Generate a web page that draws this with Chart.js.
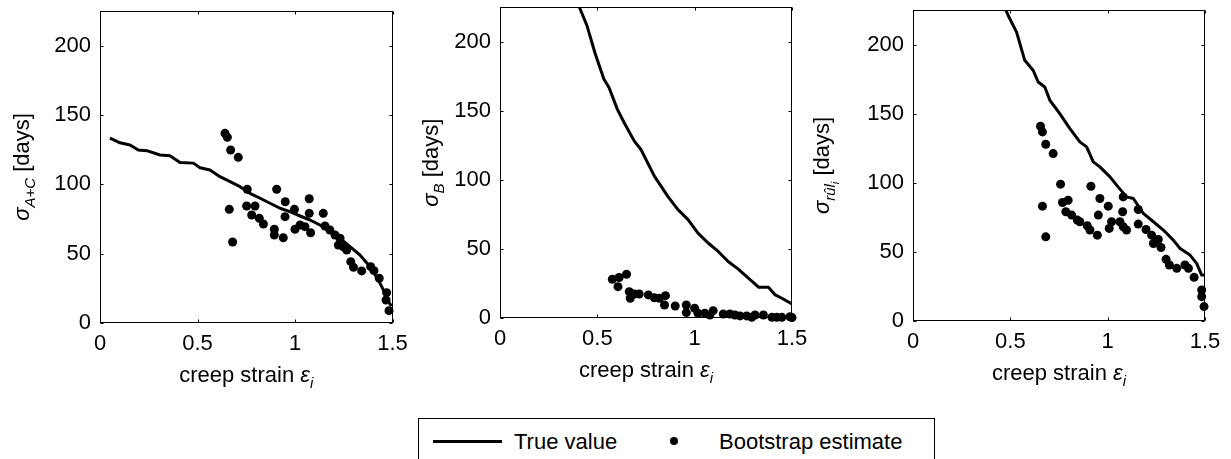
<!DOCTYPE html>
<html><head><meta charset="utf-8">
<script src="https://cdn.jsdelivr.net/npm/chart.js@4.4.0/dist/chart.umd.min.js"></script>
<style>
html,body{margin:0;padding:0;background:#fff;width:1231px;height:459px;overflow:hidden;font-family:"Liberation Sans",Arial,sans-serif;}
canvas{position:absolute;top:0;}
#legend{position:absolute;left:418px;top:418px;width:517px;height:70px;border:1px solid #000;box-sizing:border-box;background:#fff;}
#legend .ln{position:absolute;left:14px;top:21px;width:69px;height:3px;background:#000;}
#legend .dot{position:absolute;left:251px;top:18px;width:8px;height:8px;border-radius:50%;background:#000;}
#legend .tx{position:absolute;top:12px;font-size:22px;line-height:22px;color:#000;white-space:nowrap;}
</style></head><body>
<canvas id="c1" width="410" height="400" style="left:0px"></canvas>
<canvas id="c2" width="410" height="400" style="left:400px"></canvas>
<canvas id="c3" width="418" height="400" style="left:813px"></canvas>
<div id="legend"><div class="ln"></div><span class="tx" style="left:95px">True value</span><div class="dot"></div><span class="tx" style="left:300px">Bootstrap estimate</span></div>
<script>
// ---------- data ----------
const xTicks = [0, 0.5, 1, 1.5];
const yTicks = [0, 50, 100, 150, 200];

// panel 1: sigma_{A+C}
const trueAC_x = [0.051,0.103,0.154,0.196,0.24,0.308,0.359,0.41,0.479,0.513,0.564,0.615,0.667,0.718,0.769,0.821,0.872,0.923,0.974,1.026,1.077,1.128,1.179,1.231,1.282,1.333,1.385,1.427,1.462,1.479,1.495];
const trueAC_y = [133.4,130,128.4,124.8,124.3,121.2,120.7,115.8,115.3,112,110.3,105.5,101.9,98.3,93.5,89.9,86.3,82.7,80.2,77.1,74.2,70.6,65.8,61,54.9,48.9,40.5,30.9,21.2,15.2,12];
const bootAC_x = [0.641,0.653,0.67,0.709,0.663,0.68,0.755,0.752,0.795,0.778,0.817,0.838,0.894,0.894,0.906,0.94,0.95,0.949,0.997,1.0,1.026,1.051,1.073,1.073,1.08,1.145,1.154,1.179,1.205,1.222,1.231,1.248,1.265,1.286,1.3,1.342,1.388,1.405,1.432,1.47,1.467,1.482];
const bootAC_y = [136.8,134,124.8,119.5,81.9,58.3,96.4,84.3,84.3,77.8,75.4,71.3,67.5,63.4,96.4,61.4,87.4,76.6,81.9,67.5,70.6,69.4,89.6,79,65,79,69.9,67,63.4,56.1,61,54.9,52.5,44.1,40,37.4,40.5,37.6,32.1,21.7,16.4,8.7];

// panel 2: sigma_B
const trueB_x = [0.408,0.447,0.49,0.534,0.56,0.603,0.638,0.69,0.724,0.793,0.862,0.914,0.966,1.017,1.069,1.121,1.172,1.224,1.276,1.328,1.379,1.414,1.448,1.5];
const trueB_y = [225,211.6,191,172.9,166.9,151.1,141.4,128.1,122,102.7,88.1,78.5,71.2,61.5,54.3,48.2,40.9,35.4,28.8,22.3,22.3,16.7,14.3,10.2];
const bootB_x = [0.577,0.606,0.612,0.65,0.664,0.669,0.69,0.715,0.762,0.793,0.819,0.85,0.845,0.9,0.957,0.957,1.0,1.017,1.052,1.095,1.078,1.147,1.181,1.207,1.233,1.267,1.293,1.31,1.353,1.397,1.422,1.448,1.49,1.5];
const bootB_y = [28.1,22.7,29.3,31.7,19.1,14.3,17.4,17.4,16.7,14.7,14.3,16.2,9.4,8.7,9.4,3.9,7.1,3.4,3.4,5.3,2.2,2.9,2.9,2.2,1.5,1.5,0.5,2.2,2.2,0.5,0.5,0.5,0.9,0.3];

// panel 3: sigma_{rul_i}
const trueRUL_x = [0.477,0.489,0.532,0.574,0.617,0.643,0.677,0.703,0.754,0.806,0.857,0.892,0.926,0.96,1.012,1.046,1.097,1.132,1.183,1.235,1.286,1.337,1.372,1.423,1.457,1.483,1.5];
const trueRUL_y = [225,221,209,188.6,181.4,172.9,169.3,159.7,150,139.2,129.6,126,115.1,111.5,104.3,98.3,89.8,88.6,77.8,71.8,65.8,58.5,52.5,47.7,41.7,33.2,33.2];
const bootRUL_x = [0.655,0.665,0.682,0.72,0.665,0.682,0.758,0.768,0.797,0.785,0.815,0.844,0.857,0.895,0.909,0.914,0.947,0.96,0.952,1.003,1.008,1.02,1.063,1.08,1.077,1.08,1.097,1.157,1.157,1.197,1.226,1.235,1.26,1.274,1.3,1.317,1.355,1.397,1.415,1.444,1.483,1.483,1.495];
const bootRUL_y = [140.9,136.8,127.9,121.1,83.1,60.9,99,85.7,87.4,79,76.6,73,71.8,68.9,65.8,97.5,62.1,88.6,76.6,83.1,67,71.8,71.8,68.2,79,89.8,65.8,80.7,70.1,66.2,62.1,56.1,59,53.2,44.6,40.5,38.1,40.5,38.1,31.6,22.4,17.6,10.4];

// ---------- drawing helpers ----------
const FONT = '"Liberation Sans", Arial, Helvetica, sans-serif';
function fontOf(p){ return (p.italic ? 'italic ' : '') + p.size + 'px ' + FONT; }
function drawRich(ctx, parts, x, y, rot){
  ctx.save();
  ctx.translate(x, y);
  if (rot) ctx.rotate(rot);
  let w = 0;
  for (const p of parts){ ctx.font = fontOf(p); w += ctx.measureText(p.t).width; }
  let cx = -w / 2;
  ctx.fillStyle = '#000'; ctx.textAlign = 'left'; ctx.textBaseline = 'alphabetic';
  for (const p of parts){ ctx.font = fontOf(p); ctx.fillText(p.t, cx, p.dy || 0); cx += ctx.measureText(p.t).width; }
  ctx.restore();
}
const xTitle = [{t:'creep strain ', size:22},{t:'\u03B5', size:22, italic:true},{t:'i', size:15, italic:true, dy:6}];

const framePlugin = {
  id: 'frame',
  afterDraw(chart, args, o){
    const {ctx, chartArea:a} = chart;
    const xs = chart.scales.x, ys = chart.scales.y;
    const L = Math.round(a.left)+0.5, R = Math.round(a.right)-0.5, T = Math.round(a.top)+0.5, B = Math.round(a.bottom)-0.5;
    ctx.save();
    ctx.strokeStyle = '#000'; ctx.lineWidth = 1;
    ctx.strokeRect(L, T, R-L, B-T);
    ctx.beginPath();
    for (const v of xTicks){
      const px = Math.round(xs.getPixelForValue(v))+0.5;
      ctx.moveTo(px, B); ctx.lineTo(px, B-3);
      ctx.moveTo(px, T); ctx.lineTo(px, T+3);
    }
    for (const v of yTicks){
      const py = Math.round(ys.getPixelForValue(v))+0.5;
      ctx.moveTo(L, py); ctx.lineTo(L+3, py);
      ctx.moveTo(R, py); ctx.lineTo(R-3, py);
    }
    ctx.stroke();
    ctx.restore();
    drawRich(ctx, xTitle, (a.left+a.right)/2, a.bottom + 59, 0);
    drawRich(ctx, o.yTitle, a.left - o.yOff, (a.top+a.bottom)/2, -Math.PI/2);
  }
};

function pts(xa, ya){ return xa.map((x,i)=>({x:x, y:ya[i]})); }
const fmt = v => String(v);

function makePanel(id, tx, ty, bx, by, lay, yTitle, yOff){
  const canvas = document.getElementById(id);
  const H = canvas.height;
  return new Chart(canvas, {
    type: 'scatter',
    data: { datasets: [
      { label:'Bootstrap estimate', data: pts(bx, by), order:0, pointRadius:4.5, pointHoverRadius:4.5,
        pointBackgroundColor:'#000', pointBorderColor:'#000', pointBorderWidth:0, showLine:false, clip:6 },
      { label:'True value', data: pts(tx, ty), order:1, showLine:true, pointRadius:0, borderColor:'#000',
        borderWidth:3, tension:0, clip:0, borderJoinStyle:'round' }
    ]},
    options: {
      responsive:false, animation:false, devicePixelRatio:1,
      layout:{ padding:{ left:0, top:lay.top, right:lay.right, bottom:0 } },
      plugins:{ legend:{display:false}, tooltip:{enabled:false}, frame:{ yTitle:yTitle, yOff:yOff } },
      events: [],
      scales:{
        x:{ type:'linear', min:0, max:1.5,
            afterBuildTicks: s => { s.ticks = xTicks.map(v=>({value:v})); },
            afterFit: s => { s.height = H - lay.bottom; s.paddingLeft = 0; s.paddingRight = 0; },
            grid:{ display:false, drawTicks:false }, border:{ display:false },
            ticks:{ color:'#000', font:{ family:FONT, size:22 }, padding:8, maxRotation:0, autoSkip:false, callback: fmt } },
        y:{ type:'linear', min:0, max:225,
            afterBuildTicks: s => { s.ticks = yTicks.map(v=>({value:v})); },
            afterFit: s => { s.width = 100; s.paddingTop = 0; s.paddingBottom = 0; },
            grid:{ display:false, drawTicks:false }, border:{ display:false },
            ticks:{ color:'#000', font:{ family:FONT, size:22 }, padding:9, callback: fmt } }
      }
    },
    plugins:[framePlugin]
  });
}

makePanel('c1', trueAC_x, trueAC_y, bootAC_x, bootAC_y, {top:11.3, right:17.5, bottom:322.7},
  [{t:'\u03C3', size:22, italic:true},{t:'A+C', size:15, italic:true, dy:6},{t:' [days]', size:22}], 71.5);
makePanel('c2', trueB_x, trueB_y, bootB_x, bootB_y, {top:7.3, right:18, bottom:318},
  [{t:'\u03C3', size:22, italic:true},{t:'B', size:15, italic:true, dy:6},{t:' [days]', size:22}], 62.5);
makePanel('c3', trueRUL_x, trueRUL_y, bootRUL_x, bootRUL_y, {top:10, right:26, bottom:321},
  [{t:'\u03C3', size:22, italic:true},{t:'r\u00FBl', size:15, italic:true, dy:6},{t:'i', size:11, italic:true, dy:10},{t:' [days]', size:22}], 84.5);
</script>
</body></html>
